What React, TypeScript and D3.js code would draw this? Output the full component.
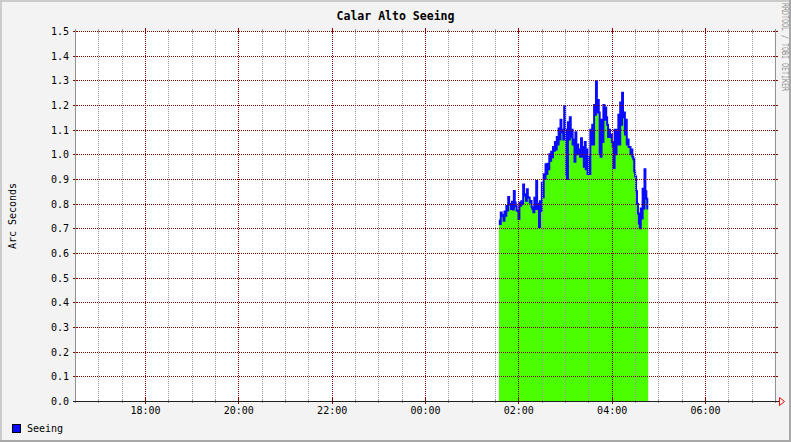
import React from 'react';
import * as d3 from 'd3';

const TITLE = 'Calar Alto Seeing';
const Y_LABEL = 'Arc Seconds';
const SIDE_TEXT = 'RRDTOOL / TOBI OETIKER';
const LEGEND_LABELS = ['Seeing'];
const Y_TICKS = [0, 0.1, 0.2, 0.3, 0.4, 0.5, 0.6, 0.7, 0.8, 0.9, 1.0, 1.1, 1.2, 1.3, 1.4, 1.5];
const X_TICK_LABELS = ['18:00', '20:00', '22:00', '00:00', '02:00', '04:00', '06:00'];

const DOMAIN_START = new Date(2020, 0, 1, 16, 30);
const DOMAIN_END = new Date(2020, 0, 2, 7, 30);
const SEEING_START = new Date(2020, 0, 2, 1, 35);
const SEEING_STEP_MIN = 2.4;
// per step: first-half sample (peak) and second-half sample (trough)
const SEEING_HIGH = [
  0.732, 0.764, 0.754, 0.768, 0.791, 0.827, 0.797, 0.808, 0.851, 0.79,
  0.77, 0.804, 0.81, 0.878, 0.838, 0.858, 0.824, 0.811, 0.777, 0.824,
  0.892, 0.777, 0.81, 0.885, 0.919, 0.96, 0.962, 1.0, 1.01, 1.03,
  1.05, 1.07, 1.105, 1.14, 1.1, 1.195, 0.92, 1.13, 1.15, 1.1,
  1.06, 1.09, 1.04, 1.02, 1.065, 1.03, 1.05, 1.02, 0.99, 1.1,
  1.12, 1.2, 1.296, 1.22, 1.0, 1.14, 1.2, 1.19, 1.12, 1.1,
  1.08, 1.03, 1.1, 1.1, 1.16, 1.21, 1.25, 1.17, 1.14, 1.06,
  1.03, 1.02, 0.98, 0.91, 0.8, 0.72, 0.78, 0.86, 0.94, 0.82,
];
const SEEING_LOW = [
  0.718, 0.749, 0.731, 0.751, 0.772, 0.799, 0.778, 0.776, 0.805, 0.772,
  0.738, 0.792, 0.799, 0.832, 0.812, 0.826, 0.805, 0.785, 0.765, 0.778,
  0.8, 0.705, 0.77, 0.826, 0.9, 0.92, 0.94, 0.974, 0.988, 1.015,
  1.02, 1.04, 1.06, 1.09, 1.06, 1.1, 0.9, 1.06, 1.07, 1.04,
  0.97, 1.0, 1.0, 0.99, 0.99, 0.95, 0.94, 0.92, 0.92, 1.04,
  1.04, 1.16, 1.17, 1.17, 0.99, 1.05, 1.14, 1.15, 1.07, 1.07,
  1.05, 0.945, 1.0, 1.04, 1.04, 1.12, 1.15, 1.08, 1.04, 1.03,
  1.0, 0.99, 0.93, 0.85, 0.76, 0.7, 0.74, 0.78, 0.85, 0.78,
];

const W = 791;
const H = 442;
const PL = 75;
const PR = 775;
const PT = 31;
const PB = 401;
const FONT = '"DejaVu Sans Mono", monospace';
const RED = '#800000';
const GRAY = '#999999';

function labelToDate(s: string) {
  const [hh, mm] = s.split(':').map(Number);
  return hh >= 12 ? new Date(2020, 0, 1, hh, mm) : new Date(2020, 0, 2, hh, mm);
}

type Pt = { t: Date; v: number };

export default function App() {
  const x = d3.scaleTime().domain([DOMAIN_START, DOMAIN_END]).range([PL, PR]);
  const y = d3.scaleLinear().domain([0, 1.5]).range([PB, PT]);
  const sx = (d: Date) => Math.round(x(d)) + 0.5;
  const sy = (v: number) => Math.round(y(v)) + 0.5;

  const stepMs = SEEING_STEP_MIN * 60000;
  const pts: Pt[] = [];
  SEEING_HIGH.forEach((hi, i) => {
    pts.push({ t: new Date(+SEEING_START + i * stepMs), v: hi });
    pts.push({ t: new Date(+SEEING_START + (i + 0.5) * stepMs), v: SEEING_LOW[i] });
  });
  pts.push({ t: new Date(+SEEING_START + SEEING_HIGH.length * stepMs), v: SEEING_LOW[SEEING_LOW.length - 1] });

  const area = d3
    .area<Pt>()
    .x((d) => x(d.t))
    .y0(y(0))
    .y1((d) => y(d.v))
    .curve(d3.curveStepAfter);
  const line = d3
    .line<Pt>()
    .x((d) => x(d.t))
    .y((d) => y(d.v))
    .curve(d3.curveStepAfter);

  const minor = d3.timeMinute.every(30)!.range(DOMAIN_START, DOMAIN_END).filter((d) => +d > +DOMAIN_START);
  const majorDates = X_TICK_LABELS.map(labelToDate);
  const isMajor = (d: Date) => majorDates.some((m) => +m === +d);

  return (
    <svg
      width={W}
      height={H}
      style={{ position: 'absolute', left: 0, top: 0, display: 'block' }}
      shapeRendering="crispEdges"
    >
      <rect x={0} y={0} width={W} height={H} fill="#f3f3f3" />
      <rect x={0} y={0} width={W} height={2} fill="#cbcbcb" />
      <rect x={0} y={0} width={2} height={H} fill="#cbcbcb" />
      <rect x={0} y={H - 2} width={W} height={2} fill="#a8a8a8" />
      <rect x={W - 2} y={0} width={2} height={H} fill="#a8a8a8" />

      <rect x={PL} y={PT} width={PR - PL} height={PB - PT} fill="#ffffff" />

      <path d={area(pts) || ''} fill="#4cff00" shapeRendering="auto" />
      <path d={line(pts) || ''} fill="none" stroke="#0a0aff" strokeWidth={2} shapeRendering="auto" />

      {minor
        .filter((d) => !isMajor(d))
        .map((d, i) => (
          <g key={'mn' + i}>
            <line x1={sx(d)} x2={sx(d)} y1={PT} y2={PB} stroke={GRAY} strokeDasharray="1,1" />
            <line x1={sx(d)} x2={sx(d)} y1={PT - 2} y2={PT + 2} stroke={GRAY} />
            <line x1={sx(d)} x2={sx(d)} y1={PB - 2} y2={PB + 2} stroke={GRAY} />
          </g>
        ))}
      {majorDates.map((d, i) => (
        <g key={'mj' + i}>
          <line x1={sx(d)} x2={sx(d)} y1={PT} y2={PB} stroke={RED} strokeDasharray="1,1" />
          <line x1={sx(d)} x2={sx(d)} y1={PT - 3} y2={PT + 3} stroke={RED} />
          <line x1={sx(d)} x2={sx(d)} y1={PB - 3} y2={PB + 3} stroke={RED} />
        </g>
      ))}
      {Y_TICKS.map((v, i) => (
        <g key={'hy' + i}>
          <line x1={PL} x2={PR} y1={sy(v)} y2={sy(v)} stroke={RED} strokeDasharray="1,1" />
          <line x1={PL - 2} x2={PL + 3} y1={sy(v)} y2={sy(v)} stroke={RED} />
          <line x1={PR - 2} x2={PR + 3} y1={sy(v)} y2={sy(v)} stroke={RED} />
        </g>
      ))}

      <line x1={PL + 0.5} x2={PL + 0.5} y1={PT - 2} y2={PB + 2} stroke="#909090" />
      <line x1={PR + 0.5} x2={PR + 0.5} y1={PT - 2} y2={PB + 2} stroke="#909090" />
      <line x1={PL - 2} x2={PR + 4} y1={PB + 0.5} y2={PB + 0.5} stroke="#202020" />
      <path
        d={`M${PR + 4.5},${PB - 3.5} L${PR + 4.5},${PB + 4.5} L${PR + 9.5},${PB + 0.5} Z`}
        fill="none"
        stroke="#ff0000"
        shapeRendering="auto"
      />

      <g fontFamily={FONT} fontSize={10} fill="#000">
        {Y_TICKS.map((v, i) => (
          <text key={'yl' + i} x={PL - 6} y={Math.round(y(v)) + 4} textAnchor="end">
            {v.toFixed(1)}
          </text>
        ))}
        {X_TICK_LABELS.map((s, i) => (
          <text key={'xl' + i} x={x(labelToDate(s)) + 0.5} y={PB + 13} textAnchor="middle">
            {s}
          </text>
        ))}
        <text transform={`translate(16,${(PT + PB) / 2}) rotate(-90)`} textAnchor="middle">
          {Y_LABEL}
        </text>
        <text x={W / 2} y={20} textAnchor="middle" fontSize={12} fontWeight="bold" textLength={118} lengthAdjust="spacingAndGlyphs">
          {TITLE}
        </text>
        {LEGEND_LABELS.map((s, i) => (
          <g key={'lg' + i}>
            <rect x={12.5} y={424.5} width={8} height={8} fill="#0a0aff" stroke="#000" />
            <text x={27} y={432}>
              {s}
            </text>
          </g>
        ))}
        <text
          transform={`translate(782,3) rotate(90)`}
          fontSize={8.5}
          fill="#8c8c8c"
          textLength={88}
          lengthAdjust="spacingAndGlyphs"
        >
          {SIDE_TEXT}
        </text>
      </g>
    </svg>
  );
}
